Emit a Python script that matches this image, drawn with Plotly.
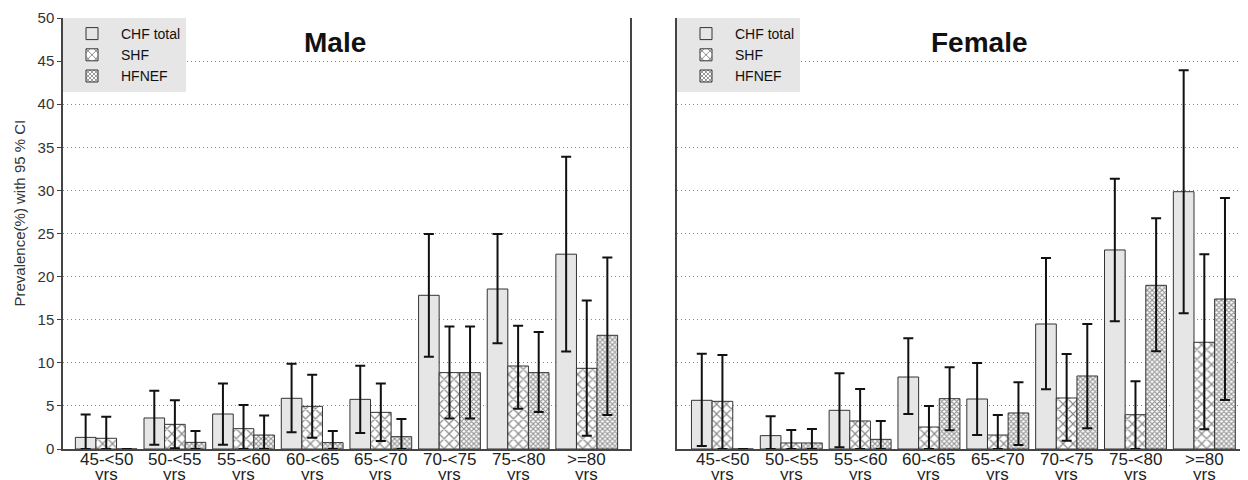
import plotly.graph_objects as go

categories = ["45-<50", "50-<55", "55-<60", "60-<65", "65-<70", "70-<75", "75-<80", ">=80"]
category_unit = "yrs"
series_names = ["CHF total", "SHF", "HFNEF"]

# Male: values, upper CI, lower CI
male_chf = [1.35, 3.6, 4.06, 5.88, 5.76, 17.83, 18.56, 22.6]
male_chf_hi = [4.0, 6.77, 7.6, 9.9, 9.67, 24.94, 24.94, 33.9]
male_chf_lo = [0.0, 0.5, 0.5, 1.93, 1.85, 10.7, 12.26, 11.3]
male_shf = [1.24, 2.86, 2.36, 4.95, 4.25, 8.86, 9.63, 9.36]
male_shf_hi = [3.75, 5.65, 5.1, 8.6, 7.6, 14.2, 14.3, 17.24]
male_shf_lo = [0.0, 0.1, 0.0, 1.3, 0.93, 3.55, 4.68, 1.55]
male_hfnef = [0.0, 0.77, 1.62, 0.74, 1.43, 8.86, 8.86, 13.19]
male_hfnef_hi = [0.0, 2.1, 3.9, 2.1, 3.48, 14.2, 13.57, 22.23]
male_hfnef_lo = [0.0, 0.0, 0.0, 0.0, 0.0, 3.55, 4.3, 3.94]

# Female: values, upper CI, lower CI
female_chf = [5.65, 1.55, 4.49, 8.35, 5.8, 14.5, 23.09, 29.85]
female_chf_hi = [11.06, 3.79, 8.78, 12.84, 9.98, 22.16, 31.36, 43.93]
female_chf_lo = [0.35, 0.0, 0.2, 4.06, 1.62, 6.92, 14.81, 15.74]
female_shf = [5.53, 0.7, 3.25, 2.55, 1.62, 5.92, 3.98, 12.38]
female_shf_hi = [10.9, 2.2, 6.96, 4.99, 3.94, 11.02, 7.85, 22.58]
female_shf_lo = [0.0, 0.0, 0.0, 0.0, 0.0, 0.97, 0.0, 2.28]
female_hfnef = [0.0, 0.7, 1.12, 5.84, 4.18, 8.47, 18.99, 17.4]
female_hfnef_hi = [0.0, 2.32, 3.25, 9.47, 7.73, 14.5, 26.76, 29.12]
female_hfnef_lo = [0.0, 0.0, 0.0, 2.17, 0.46, 2.4, 11.33, 5.68]

y_ticks = [0, 5, 10, 15, 20, 25, 30, 35, 40, 45, 50]

FONT = "Liberation Sans, Arial, sans-serif"
EDGE = "#333333"
W, H = 1240, 472  # page body has an 8px margin; figure fills the rest of the 1248x480 window

styles = [
    dict(color="#e6e6e6", line=dict(color=EDGE, width=1)),
    dict(color="white", line=dict(color=EDGE, width=1),
         pattern=dict(shape="x", size=7, solidity=0.32, fgcolor="#1a1a1a", bgcolor="white")),
    dict(color="white", line=dict(color=EDGE, width=1),
         pattern=dict(shape="x", size=3.5, solidity=0.55, fgcolor="#222222", bgcolor="white")),
]


def err(vals, hi, lo):
    return dict(type="data", symmetric=False,
                array=[max(h - v, 0) for v, h in zip(vals, hi)],
                arrayminus=[max(v - l, 0) for v, l in zip(vals, lo)],
                color="#111111", thickness=2, width=5)


fig = go.Figure()
xs = list(range(len(categories)))

male = [(male_chf, male_chf_hi, male_chf_lo),
        (male_shf, male_shf_hi, male_shf_lo),
        (male_hfnef, male_hfnef_hi, male_hfnef_lo)]
female = [(female_chf, female_chf_hi, female_chf_lo),
          (female_shf, female_shf_hi, female_shf_lo),
          (female_hfnef, female_hfnef_hi, female_hfnef_lo)]

for i, (v, h, l) in enumerate(male):
    fig.add_trace(go.Bar(x=xs, y=v, name=series_names[i], marker=styles[i],
                         error_y=err(v, h, l), xaxis="x", yaxis="y", legend="legend",
                         offsetgroup=str(i)))
for i, (v, h, l) in enumerate(female):
    fig.add_trace(go.Bar(x=xs, y=v, name=series_names[i], marker=styles[i],
                         error_y=err(v, h, l), xaxis="x2", yaxis="y2", legend="legend2",
                         offsetgroup=str(i)))

ydom = [31 / H, 462 / H]
xax = dict(tickmode="array", tickvals=xs, showticklabels=False, showline=True,
           linecolor="#444444", linewidth=1.5, ticks="", showgrid=False, automargin=False,
           zeroline=False)
yax = dict(range=[0, 50], tickvals=y_ticks, showline=True, mirror=True, automargin=False,
           linecolor="#444444", linewidth=1.5, showgrid=True, gridcolor="#888888",
           griddash="1px,3px", gridwidth=1, zeroline=False,
           tickfont=dict(family=FONT, size=15, color="#333333"))

annotations = [
    dict(text="<b>Male</b>", x=327 / W, y=438 / H, xref="paper", yref="paper",
         xanchor="center", yanchor="middle", showarrow=False,
         font=dict(family=FONT, size=28, color="#111111")),
    dict(text="<b>Female</b>", x=972 / W, y=438 / H, xref="paper", yref="paper",
         xanchor="center", yanchor="middle", showarrow=False,
         font=dict(family=FONT, size=28, color="#111111")),
    dict(text="Prevalence(%) with 95 % CI", textangle=-90, x=11.5 / W, y=267 / H,
         xref="paper", yref="paper", xanchor="center", yanchor="middle", showarrow=False,
         font=dict(family=FONT, size=15, color="#333333")),
]
for xr in ("x", "x2"):
    for xv, cat in zip(xs, categories):
        annotations.append(dict(text=cat, x=xv, xref=xr, y=21 / H, yref="paper",
                                showarrow=False, xanchor="center", yanchor="middle",
                                font=dict(family=FONT, size=17, color="#222222")))
        annotations.append(dict(text=category_unit, x=xv, xref=xr, y=6 / H, yref="paper",
                                showarrow=False, xanchor="center", yanchor="middle",
                                font=dict(family=FONT, size=17, color="#222222")))

legend_style = dict(xanchor="left", yanchor="top", bgcolor="#e6e6e6", tracegroupgap=0,
                    itemwidth=48, font=dict(family=FONT, size=14, color="#111111"))

fig.update_layout(
    width=W, height=H,
    margin=dict(l=0, r=0, t=0, b=0, autoexpand=False),
    paper_bgcolor="white", plot_bgcolor="white",
    barmode="group", bargap=0.1, bargroupgap=0,
    font=dict(family=FONT, color="#222222"),
    xaxis=dict(xax, domain=[55 / W, 622 / W], range=[-0.63, 7.63], anchor="y"),
    yaxis=dict(yax, domain=ydom, anchor="x", ticks="outside", ticklen=4, tickcolor="#444444"),
    xaxis2=dict(xax, domain=[669 / W, 1239 / W], range=[-0.66, 7.62], anchor="y2"),
    yaxis2=dict(yax, domain=ydom, anchor="x2", showticklabels=False, ticks=""),
    legend=dict(legend_style, x=55 / W, y=ydom[1]),
    legend2=dict(legend_style, x=669 / W, y=ydom[1]),
    annotations=annotations,
)

fig.write_html("out.html")
